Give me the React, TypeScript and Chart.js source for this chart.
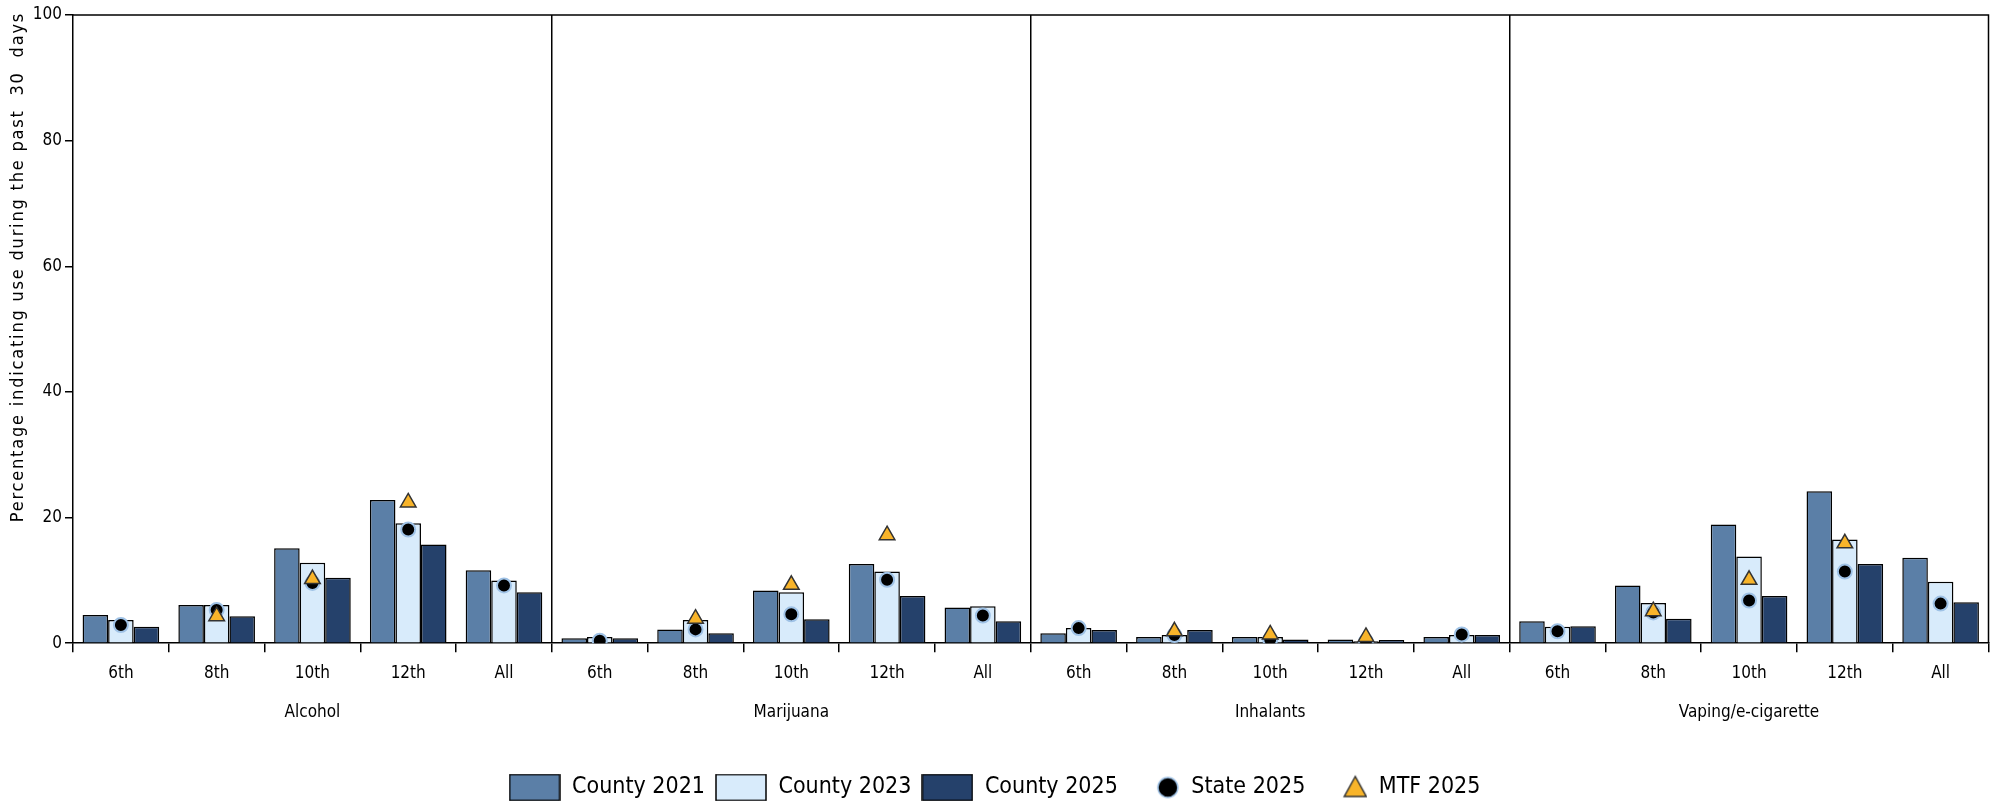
import React, { useEffect, useRef } from 'react';
import { Chart, registerables } from 'chart.js';

Chart.register(...registerables);

const grades = ['6th', '8th', '10th', '12th', 'All'];
const substances = ['Alcohol', 'Marijuana', 'Inhalants', 'Vaping/e-cigarette'];
const categoryLabels = substances.flatMap(() => grades);

const county2021 = [4.5, 6.1, 15.1, 22.8, 11.6, 0.8, 2.2, 8.4, 12.6, 5.7, 1.6, 1.0, 1.0, 0.6, 1.0, 3.5, 9.2, 18.9, 24.2, 13.6];
const county2023 = [3.7, 6.1, 12.8, 19.1, 10.0, 1.0, 3.7, 8.1, 11.4, 5.9, 2.4, 1.3, 1.0, 0.3, 1.3, 2.6, 6.4, 13.8, 16.5, 9.8];
const county2025 = [2.6, 4.3, 10.4, 15.7, 8.1, 0.8, 1.6, 3.8, 7.5, 3.5, 2.1, 2.1, 0.6, 0.5, 1.3, 2.7, 3.9, 7.5, 12.6, 6.5];
const state2025 = [2.9, 5.3, 9.6, 18.1, 9.2, 0.4, 2.2, 4.6, 10.1, 4.4, 2.4, 1.3, 0.6, 0.3, 1.4, 1.9, 4.9, 6.8, 11.4, 6.3];
const mtf2025 = [null, 4.3, 10.2, 22.4, null, null, 3.9, 9.3, 17.2, null, null, 1.9, 1.4, 1.0, null, null, 5.1, 10.1, 15.9, null];

const yTicks = [0, 20, 40, 60, 80, 100];
const yTitle = 'Percentage indicating use during the past  30  days';
const legendNames = ['County 2021', 'County 2023', 'County 2025', 'State 2025', 'MTF 2025'];

const FONT = "'Liberation Sans Narrow', 'DejaVu Sans Condensed', 'Arial Narrow', sans-serif";
const C2021 = '#5b7fa7';
const C2023 = '#d8ebfb';
const C2025 = '#25416b';
const DOT = '#000000';
const DOT_BORDER = '#9fc2e6';
const TRI = '#f8b42a';
const TRI_BORDER = '#333333';

function makeMarker(kind: string, fill: string, stroke: string): HTMLCanvasElement {
  const c = document.createElement('canvas');
  c.width = 52;
  c.height = 28;
  const g = c.getContext('2d') as CanvasRenderingContext2D;
  g.lineWidth = 1.5;
  g.fillStyle = fill;
  g.strokeStyle = stroke;
  if (kind === 'rect') {
    g.fillRect(1, 1, 50, 26);
    g.strokeRect(1, 1, 50, 26);
  } else if (kind === 'circle') {
    g.beginPath();
    g.arc(40, 14, 10, 0, Math.PI * 2);
    g.fill();
    g.stroke();
  } else {
    g.beginPath();
    g.moveTo(40, 3);
    g.lineTo(51, 23);
    g.lineTo(29, 23);
    g.closePath();
    g.fill();
    g.stroke();
  }
  return c;
}

const framePlugin = {
  id: 'frame',
  afterDatasetsDraw(chart: any) {
    const { ctx, chartArea } = chart;
    ctx.save();
    ctx.strokeStyle = '#000';
    ctx.lineWidth = 1.5;
    ctx.beginPath();
    ctx.moveTo(chartArea.left, chartArea.top);
    ctx.lineTo(chartArea.right, chartArea.top);
    ctx.lineTo(chartArea.right, chartArea.bottom);
    ctx.stroke();
    ctx.restore();
  },
  afterDraw(chart: any) {
    const { ctx, chartArea } = chart;
    ctx.save();
    ctx.translate(18, chartArea.top - 3);
    ctx.rotate(-Math.PI / 2);
    ctx.font = `18px ${FONT}`;
    (ctx as any).letterSpacing = '1.8px';
    ctx.fillStyle = '#000';
    ctx.textAlign = 'right';
    ctx.textBaseline = 'middle';
    ctx.fillText(yTitle, 0, 0);
    ctx.restore();
  },
};

export default function App() {
  const ref = useRef<HTMLCanvasElement | null>(null);

  useEffect(() => {
    document.body.style.margin = '0';
    const canvas = ref.current;
    if (!canvas) return;

    const markers = [
      makeMarker('rect', C2021, '#000'),
      makeMarker('rect', C2023, '#000'),
      makeMarker('rect', C2025, '#000'),
      makeMarker('circle', DOT, DOT_BORDER),
      makeMarker('triangle', TRI, TRI_BORDER),
    ];

    const barCommon = {
      borderColor: '#000',
      borderWidth: 1.5,
      categoryPercentage: 0.8,
      barPercentage: 1.0,
      order: 2,
    };

    const chart = new Chart(canvas, {
      type: 'bar',
      data: {
        labels: categoryLabels,
        datasets: [
          {
            type: 'line',
            label: 'MTF 2025',
            data: mtf2025 as any,
            showLine: false,
            pointStyle: 'triangle',
            pointRadius: 9,
            pointHoverRadius: 9,
            pointBackgroundColor: TRI,
            pointBorderColor: TRI_BORDER,
            pointBorderWidth: 1.5,
            order: 0,
          } as any,
          {
            type: 'line',
            label: 'State 2025',
            data: state2025,
            showLine: false,
            pointStyle: 'circle',
            pointRadius: 7,
            pointHoverRadius: 7,
            pointBackgroundColor: DOT,
            pointBorderColor: DOT_BORDER,
            pointBorderWidth: 2,
            order: 1,
          } as any,
          { label: 'County 2021', data: county2021, backgroundColor: C2021, ...barCommon },
          { label: 'County 2023', data: county2023, backgroundColor: C2023, ...barCommon },
          { label: 'County 2025', data: county2025, backgroundColor: C2025, ...barCommon },
        ],
      },
      options: {
        animation: false,
        responsive: false,
        devicePixelRatio: 1,
        layout: { padding: { top: 15, right: 10, left: 0, bottom: -8 } },
        plugins: {
          tooltip: { enabled: false },
          legend: {
            position: 'bottom',
            labels: {
              usePointStyle: true,
              pointStyleWidth: 52,
              boxHeight: 23,
              padding: 10,
              color: '#000',
              font: { family: FONT, size: 23 },
              generateLabels: () => {
                const dsIdx = [2, 3, 4, 1, 0];
                return legendNames.map((n, i) => ({
                  text: n,
                  pointStyle: markers[i] as any,
                  fillStyle: 'transparent',
                  strokeStyle: 'transparent',
                  lineWidth: 0,
                  hidden: false,
                  datasetIndex: dsIdx[i],
                  fontColor: '#000',
                })) as any;
              },
            },
          },
        },
        scales: {
          x: {
            type: 'category',
            offset: true,
            border: { display: true, color: '#000', width: 1.5 },
            grid: {
              offset: true,
              drawOnChartArea: true,
              drawTicks: true,
              tickLength: 9,
              lineWidth: 1.5,
              tickColor: '#000',
              color: (ctx: any) =>
                ctx.index === 5 || ctx.index === 10 || ctx.index === 15 ? '#000' : 'rgba(0,0,0,0)',
            },
            ticks: {
              color: '#000',
              padding: 11,
              maxRotation: 0,
              autoSkip: false,
              font: { family: FONT, size: 17 },
            },
          },
          x2: {
            type: 'category',
            labels: substances,
            position: 'bottom',
            offset: true,
            weight: 1,
            grid: { display: false },
            border: { display: false },
            afterFit: (scale: any) => {
              scale.height = scale.height + 43;
            },
            ticks: {
              color: '#000',
              padding: 0,
              maxRotation: 0,
              autoSkip: false,
              font: { family: FONT, size: 17 },
            },
          },
          y: {
            min: 0,
            max: 100,
            afterBuildTicks: (scale: any) => {
              scale.ticks = yTicks.map((v) => ({ value: v }));
            },
            afterFit: (scale: any) => {
              scale.width = 73;
            },
            border: { display: true, color: '#000', width: 1.5 },
            grid: {
              drawOnChartArea: false,
              drawTicks: true,
              tickLength: 8,
              tickColor: '#000',
              lineWidth: 1.5,
            },
            ticks: {
              color: '#000',
              padding: 3,
              font: { family: FONT, size: 17 },
            },
          },
        },
      },
      plugins: [framePlugin],
    } as any);

    return () => {
      chart.destroy();
    };
  }, []);

  return (
    <div style={{ width: 1999, height: 801 }}>
      <canvas ref={ref} width={1999} height={801} style={{ width: 1999, height: 801, display: 'block' }} />
    </div>
  );
}
